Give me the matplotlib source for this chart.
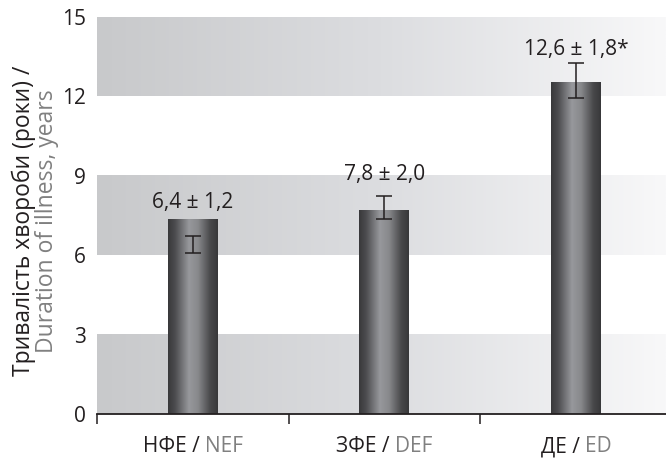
import numpy as np
import matplotlib.pyplot as plt
import matplotlib.transforms as mtransforms
from matplotlib.colors import LinearSegmentedColormap

plt.rcParams['font.family'] = ['Open Sans', 'DejaVu Sans']

# дані
groups_ua = ['НФЕ', 'ЗФЕ', 'ДЕ']
groups_en = ['NEF', 'DEF', 'ED']
bar_height = [7.35, 7.7, 12.55]
err_center = [6.4, 7.8, 12.6]
err_half = [0.33, 0.42, 0.66]
value_labels = ['6,4 ± 1,2', '7,8 ± 2,0', '12,6 ± 1,8*']
label_y = [7.8, 8.85, 13.55]
yticks = [0, 3, 6, 9, 12, 15]

dark = '#231f20'
grey = '#808080'

fig = plt.figure(figsize=(6.66, 4.59), dpi=100)
ax = fig.add_axes([97/666, 45/459, 1 - 97/666, 397/459])
x = np.arange(len(groups_ua))
xmin, xmax = -0.5, 2.47
ax.set_xlim(xmin, xmax)
ax.set_ylim(0, 15)

# фонові смуги з градієнтом
bg = np.linspace(0, 1, 256)[None, :]
bg_cmap = LinearSegmentedColormap.from_list('bg', ['#c8c9cb', '#dcdde0', '#f8f8f9'])
for lo in yticks[:-1:2]:
    ax.imshow(bg, cmap=bg_cmap, extent=[xmin, xmax, lo, lo + 3], aspect='auto', zorder=0)

# стовпчики з градієнтом
bar_cmap = LinearSegmentedColormap.from_list('bar', [
    (0.0, '#38383a'), (0.15, '#4e4e51'), (0.42, '#97989c'),
    (0.6, '#88898c'), (0.85, '#48484a'), (1.0, '#38383a')])
bars = ax.bar(x, bar_height, width=0.26, color='#555', zorder=2)
for b in bars:
    im = ax.imshow(bg, cmap=bar_cmap, aspect='auto', zorder=2.5,
                   extent=[b.get_x(), b.get_x() + b.get_width(), 0, b.get_height()])
    im.set_clip_path(b)

ax.errorbar(x, err_center, yerr=err_half, fmt='none', ecolor=dark,
            elinewidth=1.1, capsize=5.5, capthick=1.1, zorder=3)

for xi, yi, s in zip(x, label_y, value_labels):
    ax.text(xi, yi, s, ha='center', va='baseline', fontsize=15, color=dark, zorder=4)

for sp in ['left', 'right', 'top']:
    ax.spines[sp].set_visible(False)
ax.spines['bottom'].set_color(dark)
ax.spines['bottom'].set_linewidth(1.3)
ax.set_yticks(yticks)
ax.tick_params(axis='y', length=0, labelsize=15, labelcolor=dark, pad=8)
ax.set_xticks(x - 0.5)
ax.set_xticklabels([])
ax.tick_params(axis='x', length=7, width=1.1, color=dark, direction='out')

# підписи категорій двома кольорами
trans = mtransforms.blended_transform_factory(ax.transData, ax.transAxes)
parts = []
for xi, ua, en in zip(x, groups_ua, groups_en):
    t1 = ax.text(xi, -0.082, ua + ' / ', transform=trans, ha='right', va='center',
                 fontsize=15, color=dark)
    t2 = ax.annotate(en, xy=(1, 0), xycoords=t1, ha='left', va='bottom',
                     fontsize=15, color=grey)
    parts.append((xi, t1, t2))

# підпис осі y
fig.text(24/666, 1 - 221/459, 'Тривалість хвороби (роки) /', rotation=90,
         ha='center', va='center', fontsize=16.5, color=dark)
fig.text(47/666, 1 - 221/459, 'Duration of illness, years', rotation=90,
         ha='center', va='center', fontsize=16.5, color=grey)

fig.canvas.draw()
for xi, t1, t2 in parts:
    w1 = t1.get_window_extent().width
    w2 = t2.get_window_extent().width
    dx = (w1 - w2) / 2 / fig.dpi
    t1.set_transform(trans + mtransforms.ScaledTranslation(dx, 0, fig.dpi_scale_trans))

fig.savefig('out.png', dpi=100)
